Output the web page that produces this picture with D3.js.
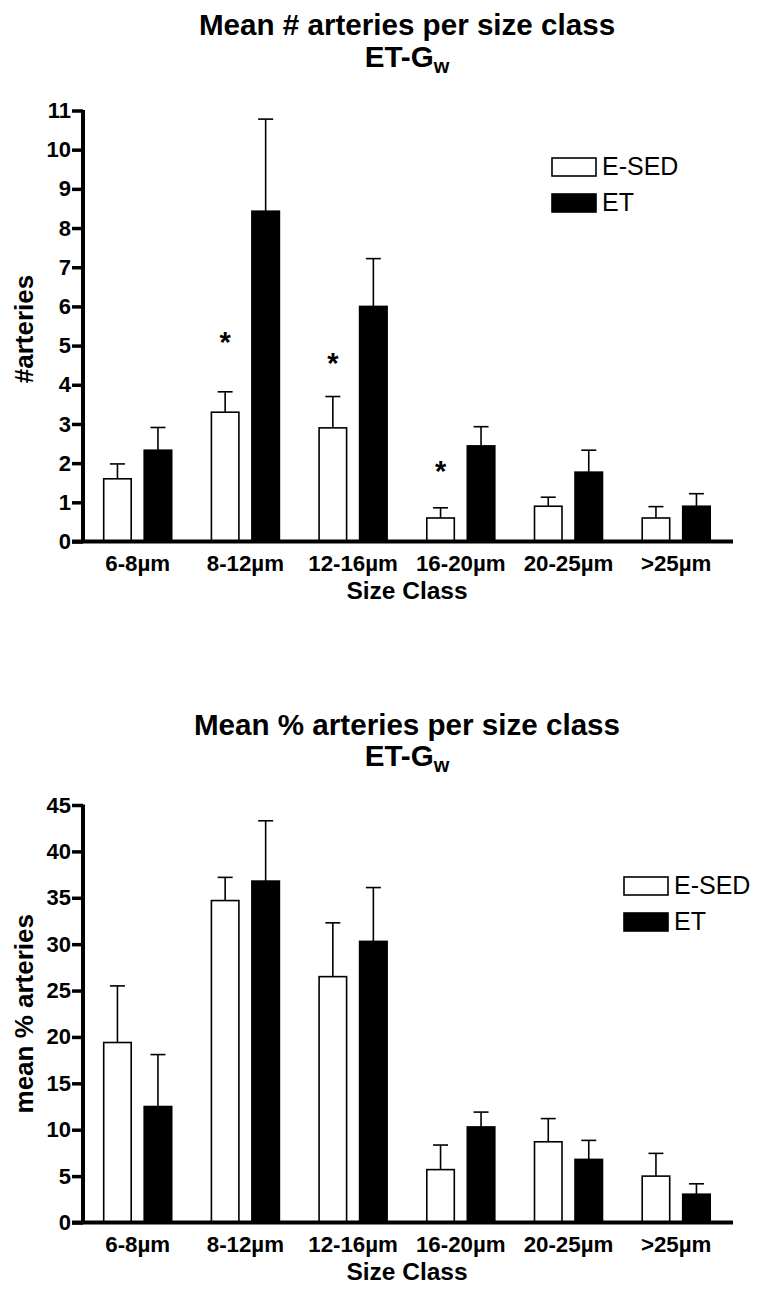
<!DOCTYPE html>
<html>
<head>
<meta charset="utf-8">
<script src="https://cdn.jsdelivr.net/npm/d3@7"></script>
<style>
  html, body { margin: 0; padding: 0; background: #fff; }
  svg { display: block; }
  text { font-family: "Liberation Sans", Arial, Helvetica, sans-serif; fill: #000; }
</style>
</head>
<body>
<svg id="chart" width="759" height="1314"></svg>
<script>
// ---------- data ----------
const categories = ["6-8µm", "8-12µm", "12-16µm", "16-20µm", "20-25µm", ">25µm"];
const seriesNames = ["E-SED", "ET"];

// Panel 1: Mean # arteries
const countESED    = [1.6, 3.3, 2.9, 0.6, 0.9, 0.6];
const countESEDerr = [0.38, 0.52, 0.8, 0.26, 0.23, 0.29];
const countET      = [2.33, 8.43, 6.0, 2.44, 1.77, 0.9];
const countETerr   = [0.58, 2.35, 1.22, 0.49, 0.56, 0.32];
const countSig     = [null, 5.2, 4.67, 1.9, null, null];   // asterisk levels
const countTicks   = [0, 1, 2, 3, 4, 5, 6, 7, 8, 9, 10, 11];

// Panel 2: Mean % arteries
const pctESED    = [19.4, 34.7, 26.5, 5.7, 8.7, 5.0];
const pctESEDerr = [6.1, 2.5, 5.8, 2.65, 2.5, 2.45];
const pctET      = [12.5, 36.8, 30.3, 10.3, 6.8, 3.05];
const pctETerr   = [5.6, 6.5, 5.8, 1.6, 2.05, 1.12];
const pctTicks   = [0, 5, 10, 15, 20, 25, 30, 35, 40, 45];

const svg = d3.select("#chart");
const FONT_BOLD = 700;

function panel(opts) {
  const g = svg.append("g");
  const x0 = d3.scaleBand().domain(categories).range([83.85, 730.05]).paddingInner(0).paddingOuter(0);
  const x1 = d3.scaleBand().domain(seriesNames).range([-34, 34]).paddingInner(13 / 40.5).paddingOuter(0);
  const y = d3.scaleLinear().domain(opts.domain).range(opts.range);
  const center = c => x0(c) + x0.bandwidth() / 2;

  // title
  g.append("text").attr("x", 407).attr("y", opts.titleY1)
    .attr("text-anchor", "middle").attr("font-size", 29.6).attr("font-weight", FONT_BOLD)
    .text(opts.title);
  const t2 = g.append("text").attr("x", 407).attr("y", opts.titleY2)
    .attr("text-anchor", "middle").attr("font-size", 29.6).attr("font-weight", FONT_BOLD);
  t2.append("tspan").text("ET-G");
  t2.append("tspan").attr("font-size", 20).attr("dy", 6).text("w");

  // bars
  const series = [
    { name: "E-SED", vals: opts.a, errs: opts.aErr, fill: "#fff" },
    { name: "ET", vals: opts.b, errs: opts.bErr, fill: "#000" }
  ];
  series.forEach(s => {
    const sg = g.append("g");
    categories.forEach((c, i) => {
      const xl = center(c) + x1(s.name);
      const w = x1.bandwidth();
      const top = y(s.vals[i]);
      const etop = y(s.vals[i] + s.errs[i]);
      const xm = xl + w / 2;
      sg.append("line").attr("x1", xm).attr("x2", xm).attr("y1", top).attr("y2", etop)
        .attr("stroke", "#000").attr("stroke-width", 1.6);
      sg.append("line").attr("x1", xm - 7.5).attr("x2", xm + 7.5).attr("y1", etop).attr("y2", etop)
        .attr("stroke", "#000").attr("stroke-width", 1.6);
      sg.append("rect").attr("x", xl).attr("y", top)
        .attr("width", w).attr("height", y(0) - top)
        .attr("fill", s.fill).attr("stroke", "#000").attr("stroke-width", 1.6);
    });
  });

  // asterisks
  if (opts.sig) {
    categories.forEach((c, i) => {
      if (opts.sig[i] == null) return;
      g.append("text").attr("x", center(c) + x1("E-SED") + x1.bandwidth() / 2)
        .attr("y", y(opts.sig[i]) + 14)
        .attr("text-anchor", "middle").attr("font-size", 29).attr("font-weight", FONT_BOLD)
        .text("*");
    });
  }

  // y axis
  const yAxis = d3.axisLeft(y).tickValues(opts.ticks).tickSize(11).tickSizeOuter(0).tickPadding(1);
  const ya = g.append("g").attr("transform", "translate(83,0)").call(yAxis);
  ya.select(".domain").attr("stroke", "#000").attr("stroke-width", 4)
    .attr("d", `M0,${opts.range[1] - 0.5}V${opts.range[0]}`);
  ya.selectAll(".tick line").attr("stroke", "#000").attr("stroke-width", 3.5);
  ya.selectAll(".tick text").attr("font-size", 22).attr("font-weight", FONT_BOLD)
    .attr("font-family", "Liberation Sans, Arial, sans-serif").attr("fill", "#000");

  // x axis baseline
  g.append("line").attr("x1", 72).attr("x2", 733).attr("y1", y(0)).attr("y2", y(0))
    .attr("stroke", "#000").attr("stroke-width", 4);

  // x tick labels
  categories.forEach(c => {
    g.append("text").attr("x", center(c)).attr("y", y(0) + 29.5)
      .attr("text-anchor", "middle").attr("font-size", 22.3).attr("font-weight", FONT_BOLD)
      .text(c);
  });
  g.append("text").attr("x", 407).attr("y", y(0) + 57)
    .attr("text-anchor", "middle").attr("font-size", 24.5).attr("font-weight", FONT_BOLD)
    .text("Size Class");

  // y label
  const ymid = (opts.range[0] + opts.range[1]) / 2 + opts.yLabelShift;
  g.append("text").attr("transform", `translate(33,${ymid}) rotate(-90)`)
    .attr("text-anchor", "middle").attr("font-size", 26).attr("font-weight", FONT_BOLD)
    .text(opts.yLabel);

  // legend
  const lg = g.append("g").attr("transform", `translate(${opts.legX},${opts.legY})`);
  seriesNames.forEach((n, i) => {
    lg.append("rect").attr("x", 0).attr("y", i * 36).attr("width", 44).attr("height", 18)
      .attr("fill", n === "ET" ? "#000" : "#fff").attr("stroke", "#000").attr("stroke-width", 1.6);
    lg.append("text").attr("x", 50).attr("y", i * 36 + 17)
      .attr("font-size", 25).text(n);
  });
}

panel({
  title: "Mean # arteries per size class", titleY1: 35, titleY2: 66.5,
  domain: [0, 11], range: [541.5, 110.5], ticks: countTicks,
  a: countESED, aErr: countESEDerr, b: countET, bErr: countETerr, sig: countSig,
  yLabel: "#arteries", yLabelShift: 3, legX: 552, legY: 158
});

panel({
  title: "Mean % arteries per size class", titleY1: 735, titleY2: 766,
  domain: [0, 45], range: [1222.5, 805], ticks: pctTicks,
  a: pctESED, aErr: pctESEDerr, b: pctET, bErr: pctETerr, sig: null,
  yLabel: "mean % arteries", yLabelShift: 0, legX: 624, legY: 877
});
</script>
</body>
</html>
